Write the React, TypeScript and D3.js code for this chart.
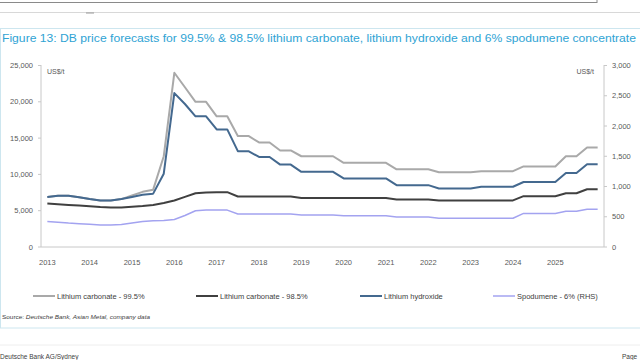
import React from "react";
import * as d3 from "d3";

const quarters = [
  "2013Q1","2013Q2","2013Q3","2013Q4","2014Q1","2014Q2","2014Q3","2014Q4",
  "2015Q1","2015Q2","2015Q3","2015Q4","2016Q1","2016Q2","2016Q3","2016Q4",
  "2017Q1","2017Q2","2017Q3","2017Q4","2018Q1","2018Q2","2018Q3","2018Q4",
  "2019Q1","2019Q2","2019Q3","2019Q4","2020Q1","2020Q2","2020Q3","2020Q4",
  "2021Q1","2021Q2","2021Q3","2021Q4","2022Q1","2022Q2","2022Q3","2022Q4",
  "2023Q1","2023Q2","2023Q3","2023Q4","2024Q1","2024Q2","2024Q3","2024Q4",
  "2025Q1","2025Q2","2025Q3","2025Q4","2026Q1",
];
const yearLabels = ["2013","2014","2015","2016","2017","2018","2019","2020","2021","2022","2023","2024","2025"];

const lc995 = [6900,7050,7050,6850,6600,6400,6400,6600,7100,7600,7900,12500,24000,22000,20000,20000,18000,18000,
  15300,15300,14400,14400,13300,13300,12500,12500,12500,12500,11600,11600,11600,11600,11600,
  10700,10700,10700,10700,10300,10300,10300,10300,10450,10450,10450,10450,11100,11100,11100,11100,12500,12500,13700,13700];
const lc985 = [6000,5900,5800,5700,5600,5500,5450,5450,5550,5650,5800,6050,6400,6900,7400,7500,7550,7550,
  6950,6950,6950,6950,6950,6950,6750,6750,6750,6750,6750,6750,6750,6750,6750,
  6550,6550,6550,6550,6420,6420,6420,6420,6420,6420,6420,6420,7000,7000,7000,7000,7400,7400,7950,7950];
const lioh = [6900,7050,7050,6850,6600,6400,6400,6600,6900,7200,7350,10100,21200,19700,18000,18000,16200,16200,
  13200,13200,12400,12400,11350,11350,10350,10350,10350,10350,9450,9450,9450,9450,9450,
  8520,8520,8520,8520,8050,8050,8050,8050,8300,8300,8300,8300,8950,8950,8950,8950,10200,10200,11400,11400];
const spod = [420,410,395,385,375,365,365,370,395,420,435,440,455,520,600,610,610,610,
  545,545,545,545,545,545,530,530,530,530,515,515,515,515,515,
  495,495,495,495,475,475,475,475,475,475,475,475,555,555,555,555,590,590,625,625];

const leftTicks = [0, 5000, 10000, 15000, 20000, 25000];
const rightTicks = [0, 500, 1000, 1500, 2000, 2500, 3000];

const seriesNames = ["Lithium carbonate - 99.5%", "Lithium carbonate - 98.5%", "Lithium hydroxide", "Spodumene - 6% (RHS)"];
const seriesColors = ["#a9a9a9", "#404040", "#44698f", "#a3a3f0"];
const seriesWidths = [2, 2, 2, 1.5];
const legendX = [33, 196, 360, 493];

const FONT = "'Liberation Sans', Arial, sans-serif";

export default function App() {
  const x = d3.scalePoint<string>().domain(quarters).range([41, 604]).padding(0.6);
  const yL = d3.scaleLinear().domain([0, 25000]).range([247, 65.5]);
  const yR = d3.scaleLinear().domain([0, 3000]).range([247, 65.5]);
  const fmt = d3.format(",");

  const lineL = d3.line<number>().x((_, i) => x(quarters[i]) as number).y((d) => yL(d));
  const lineR = d3.line<number>().x((_, i) => x(quarters[i]) as number).y((d) => yR(d));

  const paths = [
    { d: lineL(lc995), c: seriesColors[0], w: seriesWidths[0] },
    { d: lineL(lc985), c: seriesColors[1], w: seriesWidths[1] },
    { d: lineL(lioh), c: seriesColors[2], w: seriesWidths[2] },
    { d: lineR(spod), c: seriesColors[3], w: seriesWidths[3] },
  ];

  return (
    <svg width={640} height={360} style={{ position: "absolute", left: 0, top: 0, background: "#fff" }} fontFamily={FONT}>
      {/* page artifacts */}
      <line x1={0} x2={597} y1={2.5} y2={2.5} stroke="#8a8a8a" strokeWidth={1} />
      <line x1={597} x2={597} y1={0} y2={3} stroke="#8a8a8a" strokeWidth={1} />
      <line x1={0} x2={640} y1={12.5} y2={12.5} stroke="#d8d8d8" strokeWidth={1} />
      <line x1={86} x2={94} y1={13} y2={13} stroke="#999" strokeWidth={1} />
      {/* figure frame */}
      <rect x={0.5} y={28.5} width={640} height={299.5} fill="none" stroke="#cde6ef" strokeWidth={1} />
      <line x1={0} x2={640} y1={345} y2={345} stroke="#eeeeee" strokeWidth={1} />
      <text x={2} y={42} fontSize={11} fill="#2fa3d4" textLength={634} lengthAdjust="spacingAndGlyphs">
        Figure 13: DB price forecasts for 99.5% &amp; 98.5% lithium carbonate, lithium hydroxide and 6% spodumene concentrate
      </text>

      {/* axes */}
      <line x1={41} x2={41} y1={65} y2={247} stroke="#c8c8c8" />
      <line x1={604} x2={604} y1={65} y2={247} stroke="#c8c8c8" />
      <line x1={41} x2={604} y1={247} y2={247} stroke="#c8c8c8" />
      {leftTicks.map((t) => (
        <g key={"l" + t}>
          <line x1={38} x2={41} y1={yL(t)} y2={yL(t)} stroke="#c8c8c8" />
          <text x={33} y={yL(t) + 2.5} fontSize={7.5} fill="#595959" textAnchor="end">{fmt(t)}</text>
        </g>
      ))}
      {rightTicks.map((t) => (
        <g key={"r" + t}>
          <line x1={604} x2={607} y1={yR(t)} y2={yR(t)} stroke="#c8c8c8" />
          <text x={612} y={yR(t) + 2.5} fontSize={7.5} fill="#595959">{fmt(t)}</text>
        </g>
      ))}
      {yearLabels.map((yr) => (
        <text key={yr} x={x(yr + "Q1") as number} y={265} fontSize={7.5} fill="#595959" textAnchor="middle">{yr}</text>
      ))}
      <text x={47} y={74} fontSize={7} fill="#595959">US$/t</text>
      <text x={594} y={74} fontSize={7} fill="#595959" textAnchor="end">US$/t</text>

      {/* series */}
      {paths.map((p, i) => (
        <path key={i} d={p.d || ""} fill="none" stroke={p.c} strokeWidth={p.w} strokeLinejoin="round" />
      ))}

      {/* legend */}
      {seriesNames.map((n, i) => (
        <g key={n}>
          <line x1={legendX[i]} x2={legendX[i] + 22} y1={296} y2={296} stroke={seriesColors[i]} strokeWidth={seriesWidths[i]} />
          <text x={legendX[i] + 24} y={298.5} fontSize={7.5} fill="#404040">{n}</text>
        </g>
      ))}

      <text x={2} y={319} fontSize={6} fill="#404040" textLength={148} lengthAdjust="spacingAndGlyphs">
        Source: <tspan fontStyle="italic">Deutsche Bank, Asian Metal, company data</tspan>
      </text>

      <text x={0} y={359} fontSize={6.5} fill="#404040">Deutsche Bank AG/Sydney</text>
      <text x={622} y={359} fontSize={6.5} fill="#404040">Page</text>
    </svg>
  );
}
